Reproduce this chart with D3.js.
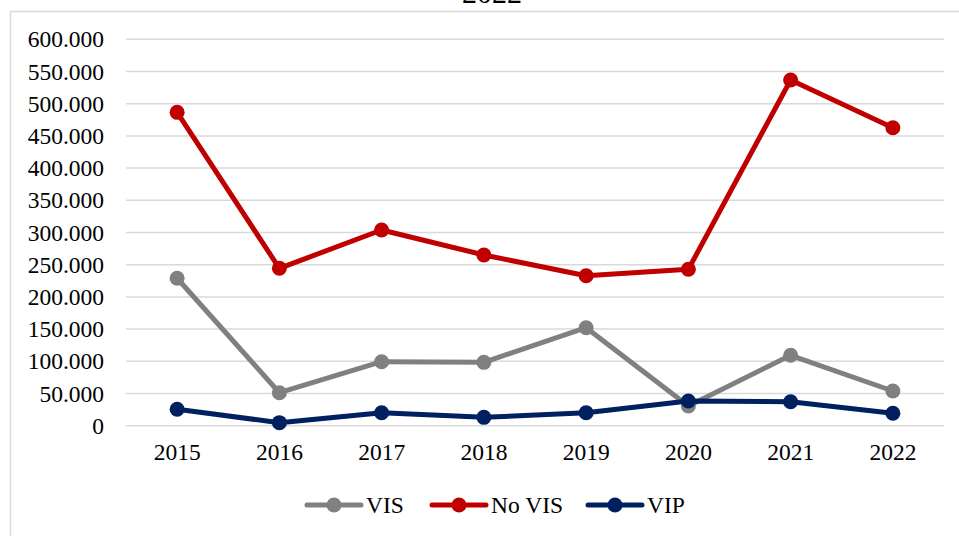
<!DOCTYPE html>
<html>
<head>
<meta charset="utf-8">
<script src="https://cdn.jsdelivr.net/npm/d3@7"></script>
<style>
  html, body { margin: 0; padding: 0; background: #fff; }
  svg text { font-family: "Liberation Serif", "Times New Roman", Times, serif !important; }
</style>
</head>
<body>
<svg id="chart" width="959" height="536"></svg>
<script>
// Yearly counts per category
const years = ["2015", "2016", "2017", "2018", "2019", "2020", "2021", "2022"];
const visValues   = [228900, 51200, 99400, 98400, 152200, 30600, 109300, 53900];
const noVisValues = [486600, 244400, 303900, 265100, 232900, 242900, 536800, 462700];
const vipValues   = [25500, 4700, 20200, 13000, 20200, 38400, 37300, 19300];
const yTicks = [0, 50000, 100000, 150000, 200000, 250000, 300000, 350000, 400000, 450000, 500000, 550000, 600000];
const seriesNames = ["VIS", "No VIS", "VIP"];
const seriesColors = ["#808080", "#C00000", "#002060"];

const series = [
  { name: seriesNames[0], color: seriesColors[0], values: visValues },
  { name: seriesNames[1], color: seriesColors[1], values: noVisValues },
  { name: seriesNames[2], color: seriesColors[2], values: vipValues }
];

const svg = d3.select("#chart");

// Outer chart frame
svg.append("rect")
  .attr("x", 10.5).attr("y", 11.5)
  .attr("width", 1000).attr("height", 600)
  .attr("fill", "none").attr("stroke", "#d9d9d9").attr("stroke-width", 1.5);

// Title (sits above the frame, mostly outside the view)
svg.append("text")
  .attr("x", 492).attr("y", 3)
  .attr("text-anchor", "middle")
  .attr("font-size", 30)
  .attr("fill", "#000")
  .text("2022");

const plot = { left: 126, right: 944, top: 39.3, bottom: 425.7 };

const x = d3.scaleBand().domain(years).range([plot.left, plot.right]);
const y = d3.scaleLinear().domain([0, 600000]).range([plot.bottom, plot.top]);

const fmt = v => v === 0 ? "0" : d3.format(",")(v).replace(/,/g, ".");

// Horizontal gridlines
svg.append("g")
  .selectAll("line")
  .data(yTicks)
  .join("line")
  .attr("x1", plot.left).attr("x2", plot.right)
  .attr("y1", d => y(d)).attr("y2", d => y(d))
  .attr("stroke", "#d9d9d9").attr("stroke-width", 1.5);

// Y axis labels
const yAxis = d3.axisLeft(y).tickValues(yTicks).tickFormat(fmt).tickSize(0).tickPadding(22);
svg.append("g")
  .attr("transform", `translate(${plot.left},0)`)
  .call(yAxis)
  .call(g => g.select(".domain").remove())
  .call(g => g.selectAll("text")
    .attr("font-size", 23.5)
    .attr("fill", "#000"));

// X axis labels
const xAxis = d3.axisBottom(x).tickSize(0).tickPadding(18);
svg.append("g")
  .attr("transform", `translate(0,${plot.bottom})`)
  .call(xAxis)
  .call(g => g.select(".domain").remove())
  .call(g => g.selectAll("text")
    .attr("font-size", 23.5)
    .attr("fill", "#000"));

const cx = d => x(d) + x.bandwidth() / 2;

const line = d3.line()
  .x((d, i) => cx(years[i]))
  .y(d => y(d));

series.forEach(s => {
  const g = svg.append("g");
  g.append("path")
    .datum(s.values)
    .attr("d", line)
    .attr("fill", "none")
    .attr("stroke", s.color)
    .attr("stroke-width", 5)
    .attr("stroke-linejoin", "round");
  g.selectAll("circle")
    .data(s.values)
    .join("circle")
    .attr("cx", (d, i) => cx(years[i]))
    .attr("cy", d => y(d))
    .attr("r", 7.5)
    .attr("fill", s.color);
});

// Legend
const legendItems = [
  { lineX: 307, textX: 366 },
  { lineX: 432, textX: 491 },
  { lineX: 588, textX: 647 }
];
const legendY = 505;
series.forEach((s, i) => {
  const lg = svg.append("g");
  const lx = legendItems[i].lineX;
  lg.append("line")
    .attr("x1", lx).attr("x2", lx + 54)
    .attr("y1", legendY).attr("y2", legendY)
    .attr("stroke", s.color).attr("stroke-width", 5).attr("stroke-linecap", "round");
  lg.append("circle")
    .attr("cx", lx + 27).attr("cy", legendY).attr("r", 7.5).attr("fill", s.color);
  lg.append("text")
    .attr("x", legendItems[i].textX).attr("y", 512.5)
    .attr("font-size", 23.5).attr("fill", "#000")
    .text(s.name);
});
</script>
</body>
</html>
